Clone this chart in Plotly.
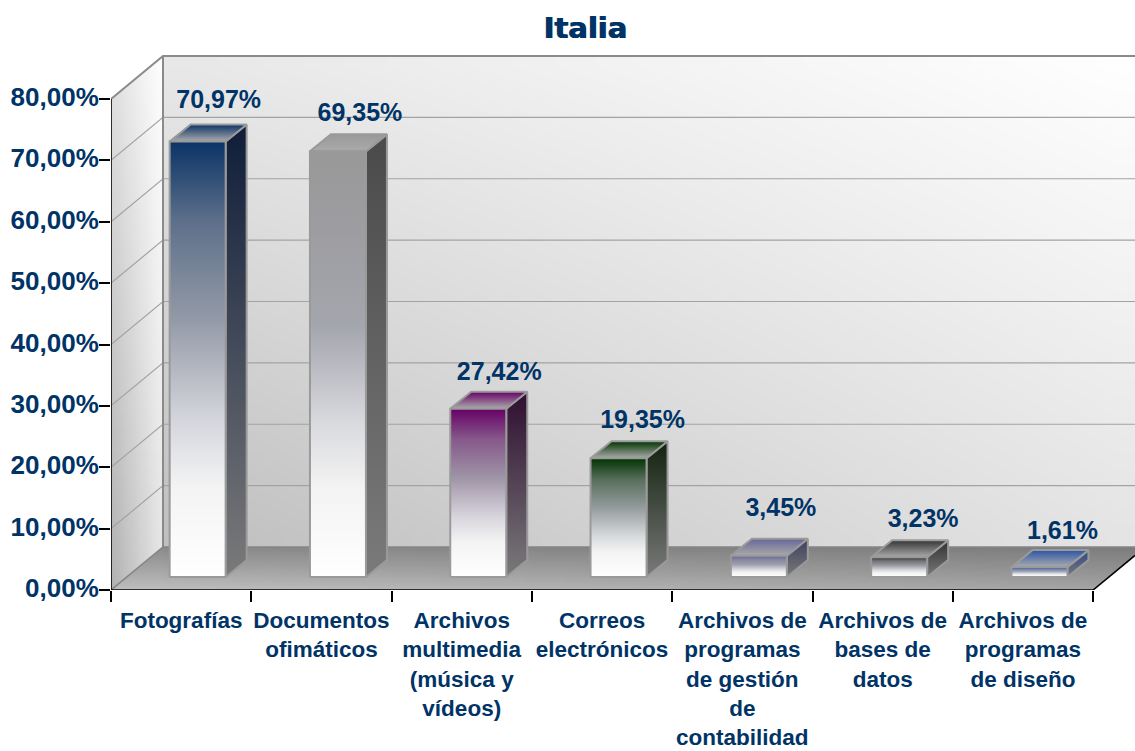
import plotly.graph_objects as go

categories = ["Fotografías", "Documentos<br>ofimáticos", "Archivos<br>multimedia<br>(música y<br>vídeos)",
              "Correos<br>electrónicos", "Archivos de<br>programas<br>de gestión<br>de<br>contabilidad",
              "Archivos de<br>bases de<br>datos", "Archivos de<br>programas<br>de diseño"]
values = [70.97, 69.35, 27.42, 19.35, 3.45, 3.23, 1.61]
front_colors = ["#0a3366", "#999999", "#660066", "#003300", "#666699", "#333333", "#2a55a8"]
side_colors = ["#0f1d3a", "#4a4a4a", "#2e0e30", "#12220f", "#3f3f60", "#303030", "#2e4686"]
label_dx = [0, 1, 0, 3, 1, 3, 2]
label_dy = [23, 20, 18, 19, 29, 19, 17]
y_ticks = [0, 10, 20, 30, 40, 50, 60, 70, 80]
y_tick_labels = ["0,00%", "10,00%", "20,00%", "30,00%", "40,00%", "50,00%", "60,00%", "70,00%", "80,00%"]
title_text = "Italia"
text_color = "#003366"

W, H = 1135, 751
L, T, B = 111, 50, 590
PX_X = 140.3            # pixels per category
PX_Y = 491 / 80         # pixels per percent
xmax = (W - L) / PX_X
ymax = (B - T) / PX_Y
n = len(values)
wall_dx, wall_dy = 52 / PX_X, 43 / PX_Y
bar_dx, bar_dy = 21 / PX_X, 17 / PX_Y
bar_off, bar_base, bar_hw = 16.5 / PX_X, 13 / PX_Y, 28 / PX_X
ytop = 80 + wall_dy

fig = go.Figure()


def mix(c1, c2, t):
    a = [int(c1[k:k + 2], 16) for k in (1, 3, 5)]
    b = [int(c2[k:k + 2], 16) for k in (1, 3, 5)]
    return "#" + "".join(f"{round(p * (1 - t) + q * t):02x}" for p, q in zip(a, b))


def wall_map(x0, x1, y0, y1, bl, tl, br, tr, nn=24):
    xs = [x0 + (x1 - x0) * i / nn for i in range(nn + 1)]
    ys = [y0 + (y1 - y0) * j / nn for j in range(nn + 1)]
    z = []
    for j in range(nn):
        v = (j + 0.5) / nn
        row = []
        for i in range(nn):
            u = (i + 0.5) / nn
            row.append((bl * (1 - u) + br * u) * (1 - v) + (tl * (1 - u) + tr * u) * v)
        z.append(row)
    fig.add_trace(go.Heatmap(x=xs, y=ys, z=z, zmin=0, zmax=255, zsmooth="best", showscale=False,
                             colorscale=[[0, "#000000"], [1, "#ffffff"]], hoverinfo="skip"))


# left wall, back wall, floor
wall_map(0, wall_dx, 0, ytop, 0xb0, 0xe0, 0xe6, 0xff)
wall_map(wall_dx, xmax, wall_dy, ytop, 0xbe, 0xe8, 0xe4, 0xff)
wall_map(wall_dx, xmax, 0, wall_dy, 0xbe, 0x8a, 0xa4, 0x7c)


def poly(xs, ys, color=None, grad=None, line=None, lw=2):
    kw = dict(x=xs + xs[:1], y=ys + ys[:1], mode="lines", fill="toself", hoverinfo="skip", showlegend=False,
              line=dict(color=line or "rgba(0,0,0,0)", width=lw if line else 0), cliponaxis=True)
    if grad:
        kw["fillgradient"] = dict(type="vertical", colorscale=grad[2], start=grad[0], stop=grad[1])
        kw["fillcolor"] = None
    else:
        kw["fillcolor"] = color
    fig.add_trace(go.Scatter(**kw))


def seg(xs, ys, color, width):
    fig.add_trace(go.Scatter(x=xs, y=ys, mode="lines", line=dict(color=color, width=width),
                             hoverinfo="skip", showlegend=False, cliponaxis=False))


# floor's left triangle
poly([0, wall_dx, wall_dx], [0, wall_dy, 0], grad=(0, wall_dy, [[0, "#bebebe"], [1, "#8a8a8a"]]))
# blank corners above the left wall and right of the floor
poly([0, wall_dx, 0], [80, ytop, ytop], color="#ffffff")
poly([n, xmax, xmax], [0, (xmax - n) / wall_dx * wall_dy, 0], color="#ffffff")

# grid lines
gx, gy = [], []
for v in y_ticks[1:-1]:
    gx += [0, wall_dx, xmax, None]
    gy += [v, v + wall_dy, v + wall_dy, None]
seg(gx, gy, "#a3a3a3", 1.2)

# wall edges
seg([0, wall_dx, xmax], [80, ytop, ytop], "#8a8a8a", 2)
seg([wall_dx, wall_dx], [wall_dy, ytop], "#8a8a8a", 2)
seg([0, wall_dx, xmax], [0, wall_dy, wall_dy], "#858585", 1.6)

# bars
EDGE = "#9a9a9a"
for i, v in enumerate(values):
    c = i + 0.5 + bar_off
    x0, x1 = c - bar_hw, c + bar_hw
    y0, y1 = bar_base, bar_base + v
    col = front_colors[i]
    poly([x1, x1 + bar_dx, x1 + bar_dx, x1], [y0, y0 + bar_dy, y1 + bar_dy, y1],
         grad=(y0, y1 + bar_dy, [[0, "#7a7a7a"], [1, side_colors[i]]]), line=EDGE)
    poly([x0, x1, x1 + bar_dx, x0 + bar_dx], [y1, y1, y1 + bar_dy, y1 + bar_dy],
         grad=(y1, y1 + bar_dy, [[0, "#ababab"], [1, col]]), line=EDGE)
    poly([x0, x1, x1, x0], [y0, y0, y1, y1],
         grad=(y0, y1, [[0, "#ffffff"], [0.21, "#f3f3f3"], [0.36, mix(col, "#dcdde1", 0.96)],
                        [0.5, mix(col, "#bcbcc4", 0.92)], [0.59, mix(col, "#a6a8b0", 0.88)],
                        [0.82, mix(col, "#a0a0a8", 0.55)], [1, col]]), line=EDGE)

# axis lines
seg([0, 0], [0, 80], "#000000", 1.6)
seg([0, n], [0, 0], "#000000", 1.6)
seg([n, xmax], [0, (xmax - n) / wall_dx * wall_dy], "#000000", 1.6)

# data labels
fig.add_trace(go.Scatter(
    x=[i + 0.5 + bar_off + bar_dx + label_dx[i] / PX_X for i in range(n)],
    y=[bar_base + v + bar_dy + label_dy[i] / PX_Y for i, v in enumerate(values)],
    text=[f"{v:.2f}%".replace(".", ",") for v in values],
    mode="text", textposition="middle center", cliponaxis=False, hoverinfo="skip", showlegend=False,
    textfont=dict(family="Liberation Sans", size=25, color=text_color, weight=700)))

fig.update_layout(
    width=W, height=H, autosize=False, margin=dict(l=L, r=0, t=T, b=H - B, pad=0),
    paper_bgcolor="#ffffff", plot_bgcolor="#ffffff", showlegend=False,
    title=dict(text=f"<b>{title_text}</b>", x=585 / W, xanchor="center", y=1 - 27.5 / H, yanchor="middle",
               font=dict(family="DejaVu Sans", size=29, color=text_color, shadow="1px 0 0 #003366")),
    xaxis=dict(type="linear", range=[0, xmax], showgrid=False, zeroline=False, showline=False, automargin=False,
               tickmode="array", tickvals=[i + 0.5 for i in range(n)], ticktext=categories, tickangle=0,
               ticks="outside", ticklen=10, tickcolor="rgba(0,0,0,0)",
               tickfont=dict(family="Liberation Sans", size=22.5, color=text_color, weight=700),
               minor=dict(tickmode="array", tickvals=list(range(n + 1)), ticks="outside", ticklen=11,
                          tickcolor="#000000", tickwidth=1.5, showgrid=False)),
    yaxis=dict(type="linear", range=[0, ymax], showgrid=False, zeroline=False, showline=False, automargin=False,
               tickmode="array", tickvals=y_ticks, ticktext=y_tick_labels, ticks="outside", ticklen=6,
               tickcolor="rgba(0,0,0,0)", ticklabelshift=-2,
               tickfont=dict(family="Liberation Sans", size=26, color=text_color, weight=700),
               minor=dict(tickmode="array", tickvals=y_ticks, ticks="outside", ticklen=11,
                          tickcolor="#000000", tickwidth=1.5, showgrid=False)),
)

fig.write_html("out.html", config={"displayModeBar": False},
               post_script="document.body.style.margin='0';document.body.style.overflow='hidden';")
